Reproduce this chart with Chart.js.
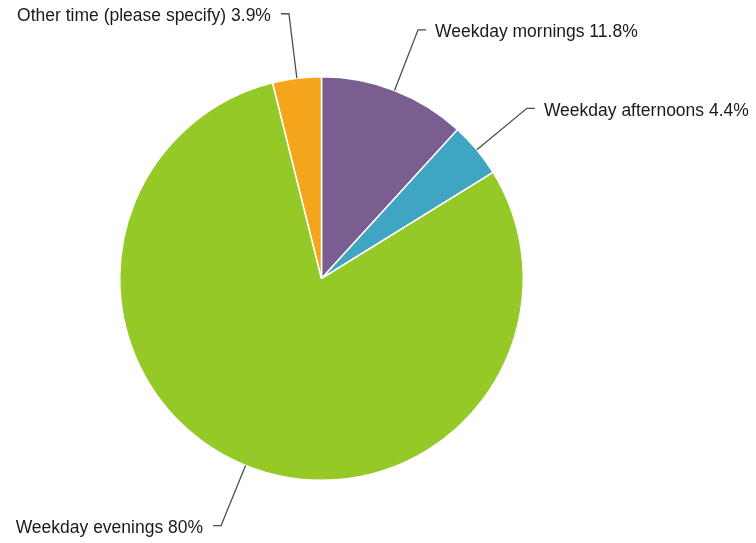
<!DOCTYPE html>
<html>
<head>
<meta charset="utf-8">
<script src="https://cdn.jsdelivr.net/npm/chart.js@4"></script>
<style>
    html, body { margin: 0; padding: 0; background: #ffffff; }
    #wrap { width: 756px; height: 543px; position: relative; }
</style>
</head>
<body>
<div id="wrap"><canvas id="timeChart"></canvas></div>
<script>
const categories = ['Weekday mornings', 'Weekday afternoons', 'Weekday evenings', 'Other time (please specify)'];
const percentages = [11.8, 4.4, 80, 3.9];
const sliceColors = ['#7b5e91', '#40a4c3', '#95c927', '#f5a51c'];

const colors = {
    text: '#1a1a1a',
    leader: '#4d4d4d',
    white: '#ffffff',
};

const font = "17.5px 'Liberation Sans', Arial, sans-serif";

// leader lines and labels drawn outside the pie
const outsideLabels = {
    id: 'outsideLabels',
    afterDraw(chart) {
        const ctx = chart.ctx;
        const meta = chart.getDatasetMeta(0);
        ctx.save();
        ctx.font = font;
        ctx.fillStyle = colors.text;
        ctx.strokeStyle = colors.leader;
        ctx.lineWidth = 1.3;
        ctx.textBaseline = 'middle';
        meta.data.forEach((arc, i) => {
            const { x, y, startAngle, endAngle, outerRadius } = arc.getProps(['x', 'y', 'startAngle', 'endAngle', 'outerRadius'], true);
            const mid = (startAngle + endAngle) / 2;
            const cos = Math.cos(mid);
            const sin = Math.sin(mid);
            const sx = x + outerRadius * cos;
            const sy = y + outerRadius * sin;
            const ex = x + (outerRadius + 65) * cos;
            const ey = y + (outerRadius + 65) * sin;
            const right = cos >= 0;
            const hx = ex + (right ? 8 : -8);
            ctx.beginPath();
            ctx.moveTo(sx, sy);
            ctx.lineTo(ex, ey);
            ctx.lineTo(hx, ey);
            ctx.stroke();
            const label = `${categories[i]} ${percentages[i]}%`;
            ctx.textAlign = right ? 'left' : 'right';
            ctx.fillText(label, hx + (right ? 9 : -10), ey + 2.5);
        });
        ctx.restore();
    },
};

new Chart(document.getElementById('timeChart'), {
    type: 'pie',
    data: {
        labels: categories,
        datasets: [{
            data: percentages,
            backgroundColor: sliceColors,
            borderColor: colors.white,
            borderWidth: 1.5,
        }],
    },
    options: {
        responsive: true,
        maintainAspectRatio: false,
        animation: false,
        layout: {
            padding: { top: 76, bottom: 62, left: 119, right: 232 },
        },
        plugins: {
            legend: { display: false },
            tooltip: { enabled: false },
        },
    },
    plugins: [outsideLabels],
});
</script>
</body>
</html>
